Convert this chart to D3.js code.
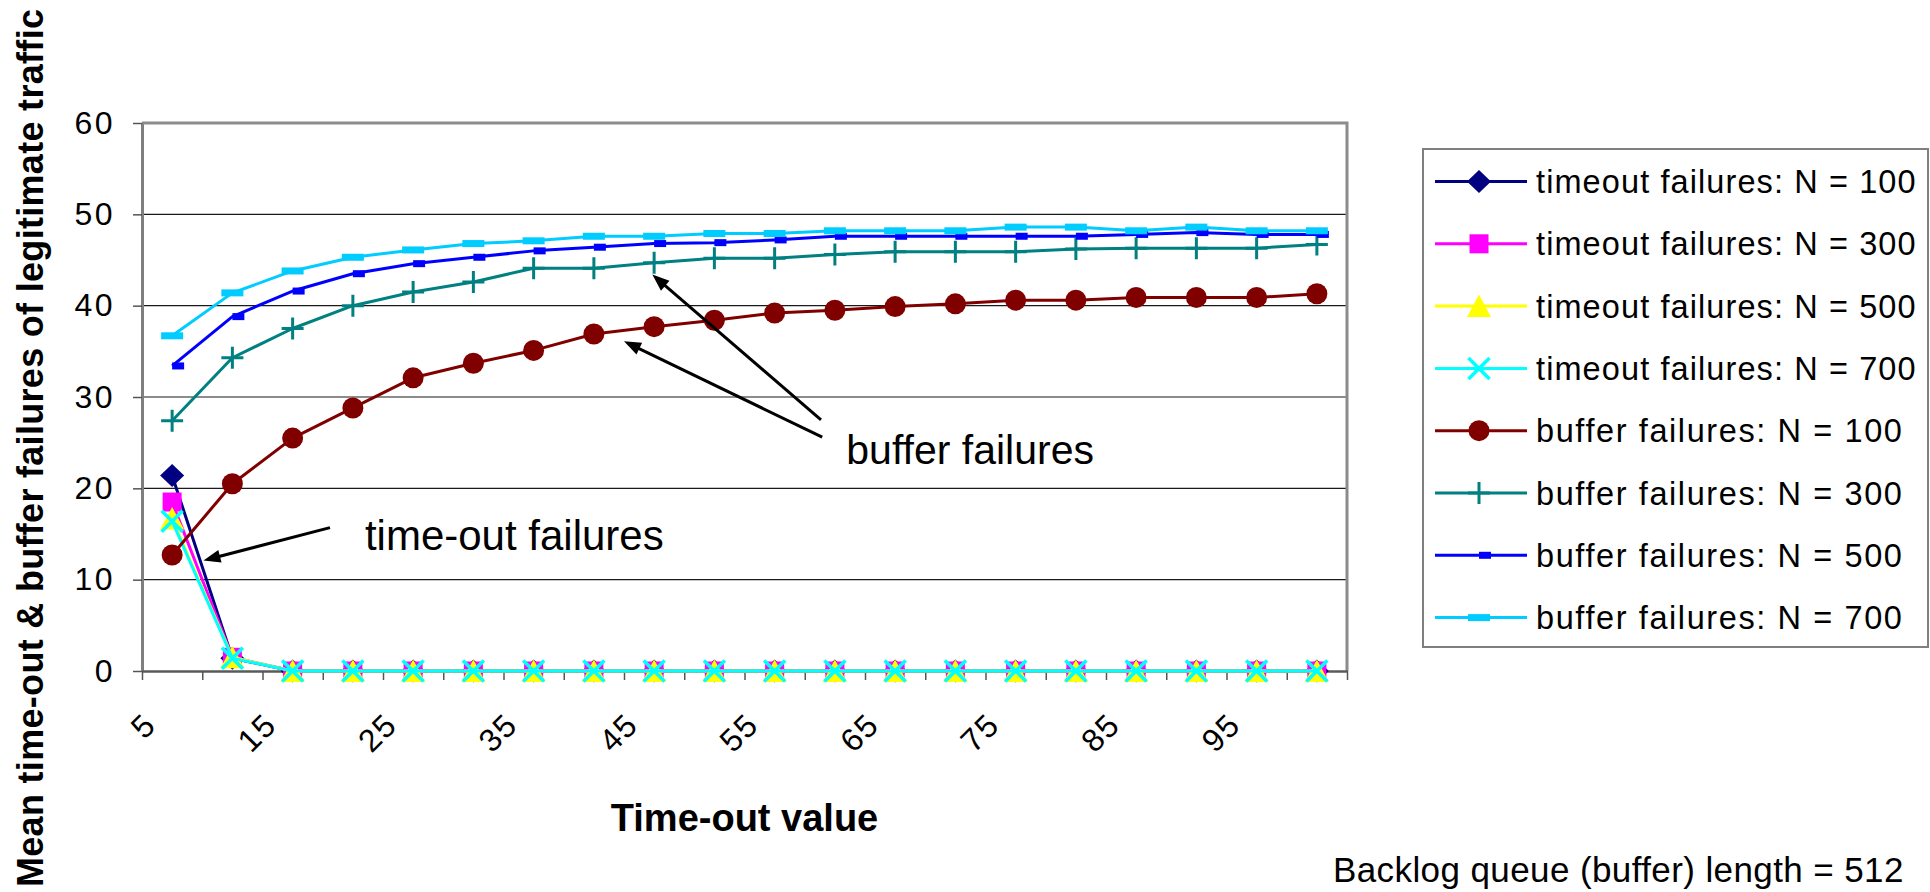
<!DOCTYPE html>
<html>
<head>
<meta charset="utf-8">
<script src="https://cdn.jsdelivr.net/npm/d3@7"></script>
<style>
  html, body { margin: 0; padding: 0; background: #ffffff; }
  svg { display: block; font-family: "Liberation Sans", Arial, sans-serif; }
</style>
</head>
<body>
<svg id="chart" width="1930" height="892"></svg>
<script>
// Time-out values (x categories)
const timeoutValues = [5, 10, 15, 20, 25, 30, 35, 40, 45, 50, 55, 60, 65, 70, 75, 80, 85, 90, 95, 100];
const xTickLabels = [5, 15, 25, 35, 45, 55, 65, 75, 85, 95];
const yTicks = [0, 10, 20, 30, 40, 50, 60];

// Mean time-out failures of legitimate traffic
const timeoutN100 = [21.4, 1.4, 0, 0, 0, 0, 0, 0, 0, 0, 0, 0, 0, 0, 0, 0, 0, 0, 0, 0];
const timeoutN300 = [18.5, 1.5, 0, 0, 0, 0, 0, 0, 0, 0, 0, 0, 0, 0, 0, 0, 0, 0, 0, 0];
const timeoutN500 = [16.7, 1.5, 0, 0, 0, 0, 0, 0, 0, 0, 0, 0, 0, 0, 0, 0, 0, 0, 0, 0];
const timeoutN700 = [16.4, 1.4, 0, 0, 0, 0, 0, 0, 0, 0, 0, 0, 0, 0, 0, 0, 0, 0, 0, 0];

// Mean buffer failures of legitimate traffic
const bufferN100 = [12.7, 20.5, 25.5, 28.8, 32.1, 33.7, 35.1, 36.9, 37.7, 38.4, 39.2, 39.5, 39.9, 40.2, 40.6, 40.6, 40.9, 40.9, 40.9, 41.3];
const bufferN300 = [27.4, 34.3, 37.5, 40.0, 41.5, 42.6, 44.1, 44.1, 44.7, 45.2, 45.2, 45.6, 45.9, 45.9, 45.9, 46.2, 46.3, 46.3, 46.3, 46.7];
const bufferN500 = [33.4, 38.8, 41.6, 43.5, 44.6, 45.3, 46.0, 46.4, 46.8, 46.9, 47.2, 47.6, 47.6, 47.6, 47.6, 47.6, 47.8, 48.0, 47.8, 47.8];
const bufferN700 = [36.7, 41.4, 43.8, 45.3, 46.1, 46.8, 47.1, 47.6, 47.6, 47.9, 47.9, 48.2, 48.2, 48.2, 48.6, 48.6, 48.2, 48.6, 48.2, 48.2];

const seriesNames = [
  "timeout failures: N = 100", "timeout failures: N = 300",
  "timeout failures: N = 500", "timeout failures: N = 700",
  "buffer failures: N = 100", "buffer failures: N = 300",
  "buffer failures: N = 500", "buffer failures: N = 700"
];
const seriesValues = [timeoutN100, timeoutN300, timeoutN500, timeoutN700,
                      bufferN100, bufferN300, bufferN500, bufferN700];
const seriesColors = ["#000080", "#ff00ff", "#ffff00", "#00ffff",
                      "#800000", "#008080", "#0000ff", "#00ccff"];
const seriesMarkers = ["diamond", "square", "triangle", "x", "circle", "plus", "dash", "bar"];

// Annotations, in data coordinates: [category position, value]
const annotationTexts = [
  { text: "time-out failures", at: [3.2, 13.2], size: 42 },
  { text: "buffer failures", at: [11.19, 22.7], size: 41 }
];
const annotationArrows = [
  { from: [2.62, 15.7], to: [0.52, 12.1] },
  { from: [10.77, 27.5], to: [7.97, 43.4] },
  { from: [10.79, 25.6], to: [7.5, 36.1] }
];

const svg = d3.select("#chart");
const plot = { left: 142, right: 1347, top: 123, bottom: 671 };

// Category axis: points sit in the middle of each category slot
const x = d3.scalePoint().domain(timeoutValues).range([plot.left, plot.right]).padding(0.5);
const xPos = d3.scaleLinear().domain([-0.5, timeoutValues.length - 0.5]).range([plot.left, plot.right]);
const y = d3.scaleLinear().domain([0, 60]).range([plot.bottom, plot.top]);

// Horizontal gridlines
svg.append("g")
  .selectAll("line")
  .data(yTicks.filter(t => t > 0 && t < 60))
  .join("line")
  .attr("x1", plot.left).attr("x2", plot.right)
  .attr("y1", d => y(d)).attr("y2", d => y(d))
  .attr("stroke", "#1a1a1a").attr("stroke-width", 1.2);

// Plot frame: top and right edges
svg.append("path")
  .attr("d", `M${plot.left},${plot.top}H${plot.right}V${plot.bottom}`)
  .attr("fill", "none").attr("stroke", "#8c8c8c").attr("stroke-width", 3);

// Y axis
const yAxis = svg.append("g")
  .attr("transform", `translate(${plot.left},0)`)
  .call(d3.axisLeft(y).tickValues(yTicks).tickSize(9).tickPadding(18).tickSizeOuter(0));
yAxis.select(".domain").attr("stroke", "#7f7f7f").attr("stroke-width", 3);
yAxis.selectAll(".tick line").attr("stroke", "#555").attr("stroke-width", 1.5);
yAxis.selectAll(".tick text")
  .attr("fill", "#000").attr("font-size", 32).attr("letter-spacing", 2.5)
  .attr("font-family", "Liberation Sans, Arial, sans-serif");

// X axis: tick marks on category boundaries
const xAxis = svg.append("g")
  .attr("transform", `translate(0,${plot.bottom})`)
  .call(d3.axisBottom(xPos).tickValues(d3.range(-0.5, timeoutValues.length, 1)).tickSize(9).tickSizeOuter(0).tickFormat(""));
xAxis.select(".domain").attr("stroke", "#5a5a5a").attr("stroke-width", 2.5);
xAxis.selectAll(".tick line").attr("stroke", "#555").attr("stroke-width", 1.5);

// Rotated category labels (every other category)
svg.append("g")
  .selectAll("text")
  .data(xTickLabels)
  .join("text")
  .attr("transform", d => `translate(${x(d) - 22},${plot.bottom + 48}) rotate(-45)`)
  .attr("text-anchor", "end")
  .attr("dominant-baseline", "central")
  .attr("font-size", 32)
  .attr("letter-spacing", 1.5)
  .text(d => d);

// Marker shapes
function drawMarker(g, type, color) {
  switch (type) {
    case "diamond":
      g.append("path").attr("d", "M0,-11.5L12,0L0,11.5L-12,0Z").attr("fill", color); break;
    case "square":
      g.append("rect").attr("x", -9.5).attr("y", -9.5).attr("width", 19).attr("height", 19).attr("fill", color); break;
    case "triangle":
      g.append("path").attr("d", "M0,-11.5L12,11L-12,11Z").attr("fill", color); break;
    case "x":
      g.append("path").attr("d", "M-10.5,-10.5L10.5,10.5M-10.5,10.5L10.5,-10.5").attr("stroke", color).attr("stroke-width", 3.5).attr("fill", "none"); break;
    case "circle":
      g.append("circle").attr("r", 10.5).attr("fill", color); break;
    case "plus":
      g.append("path").attr("d", "M-11,0H11M0,-11V11").attr("stroke", color).attr("stroke-width", 3).attr("fill", "none"); break;
    case "dash":
      g.append("rect").attr("x", 0).attr("y", -3.5).attr("width", 12).attr("height", 7).attr("fill", color); break;
    case "bar":
      g.append("rect").attr("x", -11).attr("y", -3.5).attr("width", 22).attr("height", 7).attr("fill", color); break;
  }
}

const line = d3.line().x((d, i) => x(timeoutValues[i])).y(d => y(d));

// Series lines and markers, drawn in series order
seriesValues.forEach((vals, s) => {
  const g = svg.append("g");
  g.append("path")
    .attr("d", line(vals))
    .attr("fill", "none")
    .attr("stroke", seriesColors[s])
    .attr("stroke-width", 3)
    .attr("stroke-linejoin", "round");
  g.selectAll("g.m")
    .data(vals)
    .join("g")
    .attr("class", "m")
    .attr("transform", (d, i) => `translate(${x(timeoutValues[i])},${y(d)})`)
    .each(function () { drawMarker(d3.select(this), seriesMarkers[s], seriesColors[s]); });
});

// Annotation arrows
function arrow(from, to) {
  const x0 = xPos(from[0]), y0 = y(from[1]);
  const x1 = xPos(to[0]), y1 = y(to[1]);
  const ang = Math.atan2(y1 - y0, x1 - x0);
  const len = 17, half = 6.5;
  const bx = x1 - len * Math.cos(ang), by = y1 - len * Math.sin(ang);
  svg.append("line")
    .attr("x1", x0).attr("y1", y0).attr("x2", bx + 2 * Math.cos(ang)).attr("y2", by + 2 * Math.sin(ang))
    .attr("stroke", "#000").attr("stroke-width", 3);
  const px = -Math.sin(ang), py = Math.cos(ang);
  svg.append("path")
    .attr("d", `M${x1},${y1}L${bx + half * px},${by + half * py}L${bx - half * px},${by - half * py}Z`)
    .attr("fill", "#000");
}
annotationArrows.forEach(a => arrow(a.from, a.to));

svg.append("g")
  .selectAll("text")
  .data(annotationTexts)
  .join("text")
  .attr("x", d => xPos(d.at[0]))
  .attr("y", d => y(d.at[1]))
  .attr("font-size", d => d.size)
  .text(d => d.text);

// Axis titles
svg.append("text")
  .attr("transform", "translate(43,448) rotate(-90)")
  .attr("text-anchor", "middle")
  .attr("font-size", 36)
  .attr("font-weight", "bold")
  .attr("textLength", 878)
  .attr("lengthAdjust", "spacing")
  .text("Mean time-out & buffer failures of legitimate traffic");

svg.append("text")
  .attr("x", (plot.left + plot.right) / 2)
  .attr("y", 831)
  .attr("text-anchor", "middle")
  .attr("font-size", 38)
  .attr("font-weight", "bold")
  .text("Time-out value");

// Legend
const legend = { left: 1423, top: 149, right: 1928, bottom: 647, rowTop: 181.5, rowStep: 62.3 };
svg.append("rect")
  .attr("x", legend.left).attr("y", legend.top)
  .attr("width", legend.right - legend.left).attr("height", legend.bottom - legend.top)
  .attr("fill", "#fff").attr("stroke", "#7f7f7f").attr("stroke-width", 2);

const rows = svg.append("g")
  .selectAll("g")
  .data(seriesNames)
  .join("g")
  .attr("transform", (d, i) => `translate(0,${legend.rowTop + i * legend.rowStep})`);
rows.append("line")
  .attr("x1", 1435).attr("x2", 1527)
  .attr("stroke", (d, i) => seriesColors[i]).attr("stroke-width", 3);
rows.append("g")
  .attr("transform", "translate(1479,0)")
  .each(function (d, i) { drawMarker(d3.select(this), seriesMarkers[i], seriesColors[i]); });
rows.append("text")
  .attr("x", 1536).attr("y", 11.5)
  .attr("font-size", 32.5)
  .attr("letter-spacing", (d, i) => i < 4 ? 1.1 : 1.6)
  .text(d => d);

// Note on buffer size
svg.append("text")
  .attr("x", 1333).attr("y", 882)
  .attr("font-size", 35)
  .attr("letter-spacing", 0.4)
  .text("Backlog queue (buffer) length = 512");
</script>
</body>
</html>
